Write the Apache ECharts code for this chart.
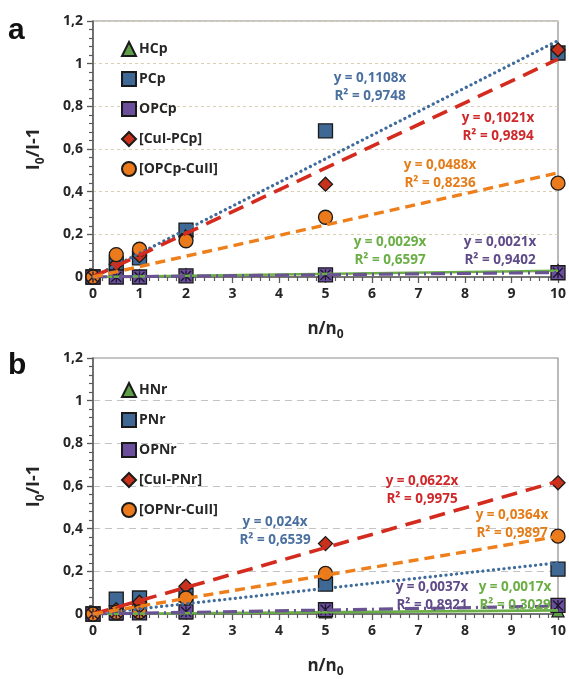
<!DOCTYPE html>
<html>
<head>
<meta charset="utf-8">
<script src="https://cdn.jsdelivr.net/npm/echarts@6/dist/echarts.min.js"></script>
<style>
html,body{margin:0;padding:0;background:#fff;}
#chart{width:569px;height:679px;}
</style>
</head>
<body>
<div id="chart"></div>
<script>
// ---------- DATA ----------
const xValues = [0, 0.5, 1, 2, 5, 10];

// Panel a
const namesA = ['HCp', 'PCp', 'OPCp', '[CuI-PCp]', '[OPCp-CuII]'];
const hcp    = [0, 0.005, 0.005, 0.01, 0.01, 0.03];
const pcp    = [0, 0.065, 0.09, 0.22, 0.685, 1.05];
const opcp   = [0, 0, 0, 0.005, 0.01, 0.02];
const cuiPcp = [0, 0.06, 0.1, 0.19, 0.435, 1.065];
const opcpCu = [0, 0.105, 0.13, 0.17, 0.28, 0.44];
const slopesA = [0.0029, 0.1108, 0.0021, 0.1021, 0.0488];
const r2A     = [0.6597, 0.9748, 0.9402, 0.9894, 0.8236];

// Panel b
const namesB = ['HNr', 'PNr', 'OPNr', '[CuI-PNr]', '[OPNr-CuII]'];
const hnr    = [0, 0, 0.005, 0.005, 0.01, 0.015];
const pnr    = [0, 0.07, 0.075, 0.09, 0.14, 0.21];
const opnr   = [0, 0.005, 0.005, 0.01, 0.02, 0.04];
const cuiPnr = [0, 0.02, 0.055, 0.13, 0.33, 0.615];
const opnrCu = [0, 0.008, 0.01, 0.075, 0.19, 0.365];
const slopesB = [0.0017, 0.024, 0.0037, 0.0622, 0.0364];
const r2B     = [0.3029, 0.6539, 0.8921, 0.9975, 0.9897];

const yTicks = [0, 0.2, 0.4, 0.6, 0.8, 1, 1.2];
const xTicks = [0, 1, 2, 3, 4, 5, 6, 7, 8, 9, 10];

// ---------- STYLE ----------
const FONT = '"Open Sans", "Liberation Sans", sans-serif';
const markerFill = ['#5e9e48', '#3f6894', '#6b4f9c', '#c8321c', '#ea7a1c'];
const symbols = ['triangle', 'rect', 'rect', 'diamond', 'circle'];
const symSize = [12, 14, 14, 14, 14];
const lineColors = ['#6aaf45', '#3f6b9b', '#6a5393', '#d42b1f', '#ee7f1b'];
const lineWidths = [2.6, 3.2, 3.2, 3.6, 3.4];
const lineTypes = ['solid', [0.1, 5.2], [14, 5, 2, 5], [16, 9], [10, 6]];
const textColors = ['#6aae45', '#4a70a0', '#5f4b88', '#d0282a', '#e47c18'];
const asterisk = 'path://M44,0 L56,0 L56,100 L44,100 Z M0,9 L9,0 L100,91 L91,100 Z M91,0 L100,9 L9,100 L0,91 Z';

const fmt = v => String(v).replace('.', ',');

// annotation layout (pixel centres of the two-line labels), order = series order
const annA = [[390, 242], [370, 78], [500, 242], [498, 118], [440, 165]];
const annB = [[515, 587], [275, 522], [432, 587], [422, 481], [512, 515]];

function pairs(ys) { return xValues.map((x, i) => [x, ys[i]]); }

function buildPanel(idx, names, datasets, slopes) {
  const series = [];
  datasets.forEach((d, i) => {
    series.push({
      type: 'scatter', name: names[i], xAxisIndex: idx, yAxisIndex: idx,
      data: pairs(d), symbol: symbols[i], symbolSize: symSize[i], z: 3,
      itemStyle: { color: markerFill[i], borderColor: '#1a1a1a', borderWidth: 1.3, opacity: 1 }
    });
    if (i === 2) {
      series.push({
        type: 'scatter', xAxisIndex: idx, yAxisIndex: idx, silent: true,
        data: pairs(d), symbol: asterisk, symbolSize: 11, z: 4,
        itemStyle: { color: '#1c1530', opacity: 1 }
      });
    }
  });
  // trendlines
  slopes.forEach((m, i) => {
    series.push({
      type: 'line', xAxisIndex: idx, yAxisIndex: idx, silent: true,
      data: [[0, 0], [10, m * 10]], symbol: 'none', z: 5,
      lineStyle: { color: lineColors[i], width: lineWidths[i], type: lineTypes[i], cap: i === 1 ? 'round' : 'butt' }
    });
  });
  return series;
}

const chart = echarts.init(document.getElementById('chart'), null, { renderer: 'canvas' });

function xAxisCfg(idx) {
  return {
    gridIndex: idx, type: 'value', min: 0, max: 10, interval: 1,
    name: '{a|n/n}{s|0}', nameLocation: 'middle', nameGap: 40,
    nameTextStyle: { rich: {
      a: { fontFamily: FONT, fontWeight: 'bold', fontSize: 17, color: '#262626', lineHeight: 24 },
      s: { fontFamily: FONT, fontWeight: 'bold', fontSize: 12, color: '#262626', lineHeight: 12, verticalAlign: 'bottom' }
    } },
    axisLine: { show: true, onZero: true, lineStyle: { color: '#5a5a5a', width: 1.5 } },
    axisTick: { show: true, inside: false, length: 6, lineStyle: { color: '#5a5a5a', width: 1.3 } },
    minorTick: { show: true, splitNumber: 5, length: 4, lineStyle: { color: '#5a5a5a', width: 1.2 } },
    axisLabel: { fontFamily: FONT, fontWeight: 'bold', fontSize: 14, color: '#262626', margin: 10,
      formatter: v => xTicks.includes(v) ? fmt(v) : '' },
    splitLine: { show: false }
  };
}
function yAxisCfg(idx, gridStyle) {
  return {
    gridIndex: idx, type: 'value', min: 0, max: 1.2, interval: 0.2,
    name: '{a|I}{s|0}{a|/I-1}', nameLocation: 'middle', nameGap: 46, nameRotate: 90,
    nameTextStyle: { rich: {
      a: { fontFamily: FONT, fontWeight: 'bold', fontSize: 18, color: '#262626', lineHeight: 26 },
      s: { fontFamily: FONT, fontWeight: 'bold', fontSize: 12, color: '#262626', lineHeight: 12, verticalAlign: 'bottom' }
    } },
    axisLine: { show: true, lineStyle: { color: '#5a5a5a', width: 1.5 } },
    axisTick: { show: true, length: 6, lineStyle: { color: '#5a5a5a', width: 1.3 } },
    minorTick: { show: true, splitNumber: 5, length: 4, lineStyle: { color: '#5a5a5a', width: 1.2 } },
    axisLabel: { fontFamily: FONT, fontWeight: 'bold', fontSize: 14, color: '#262626', margin: 10,
      formatter: v => yTicks.includes(Math.round(v * 10) / 10) ? fmt(Math.round(v * 10) / 10) : '' },
    splitLine: { show: true, lineStyle: gridStyle }
  };
}

function legendCfg(names, top) {
  return {
    data: names, orient: 'vertical', left: 116, top: top, itemGap: 14,
    itemWidth: 14, itemHeight: 14, selectedMode: false,
    textStyle: { fontFamily: FONT, fontWeight: 'bold', fontSize: 14, color: '#262626', padding: [0, 0, 0, -2] }
  };
}

function annotations(slopes, r2, pos) {
  return slopes.map((m, i) => ({
    type: 'text', x: pos[i][0], y: pos[i][1] - 9, z: 50,
    style: {
      text: 'y = ' + fmt(m) + 'x\nR² = ' + fmt(r2[i]),
      fill: textColors[i], font: 'bold 13.5px ' + FONT, textAlign: 'center', textVerticalAlign: 'top', lineHeight: 18
    }
  }));
}

const option = {
  backgroundColor: '#ffffff',
  animation: false,
  grid: [
    { left: 93, right: 10, top: 21, height: 256, show: true, borderColor: '#8c8c8c', borderWidth: 1.2, backgroundColor: 'transparent' },
    { left: 93, right: 10, top: 358, height: 260, show: true, borderColor: '#8c8c8c', borderWidth: 1.2, backgroundColor: 'transparent' }
  ],
  xAxis: [xAxisCfg(0), xAxisCfg(1)],
  yAxis: [
    yAxisCfg(0, { color: '#d9d0b4', type: [3, 3], width: 1 }),
    yAxisCfg(1, { color: '#c4c4c4', type: [7, 5], width: 1.2 })
  ],
  legend: [legendCfg(namesA, 36), legendCfg(namesB, 377)],
  series: [
    ...buildPanel(0, namesA, [hcp, pcp, opcp, cuiPcp, opcpCu], slopesA),
    ...buildPanel(1, namesB, [hnr, pnr, opnr, cuiPnr, opnrCu], slopesB)
  ],
  graphic: [
    { type: 'text', x: 8, y: 16, style: { text: 'a', font: 'bold 30px "Liberation Sans", Arial, sans-serif', fill: '#111' } },
    { type: 'text', x: 8, y: 351, style: { text: 'b', font: 'bold 30px "Liberation Sans", Arial, sans-serif', fill: '#111' } },
    ...annotations(slopesA, r2A, annA),
    ...annotations(slopesB, r2B, annB)
  ]
};
chart.setOption(option);
</script>
</body>
</html>
